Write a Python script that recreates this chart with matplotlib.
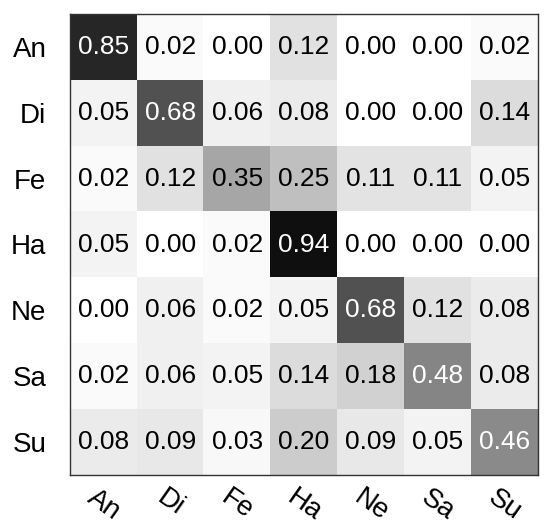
"""Confusion matrix of expression classes, gray heatmap."""

import matplotlib

matplotlib.use("Agg")

import matplotlib.pyplot as plt
import numpy as np

CLASSES = ["An", "Di", "Fe", "Ha", "Ne", "Sa", "Su"]
ROW_AN = [0.85, 0.02, 0.00, 0.12, 0.00, 0.00, 0.02]
ROW_DI = [0.05, 0.68, 0.06, 0.08, 0.00, 0.00, 0.14]
ROW_FE = [0.02, 0.12, 0.35, 0.25, 0.11, 0.11, 0.05]
ROW_HA = [0.05, 0.00, 0.02, 0.94, 0.00, 0.00, 0.00]
ROW_NE = [0.00, 0.06, 0.02, 0.05, 0.68, 0.12, 0.08]
ROW_SA = [0.02, 0.06, 0.05, 0.14, 0.18, 0.48, 0.08]
ROW_SU = [0.08, 0.09, 0.03, 0.20, 0.09, 0.05, 0.46]

plt.rcParams["font.family"] = ["Liberation Sans", "DejaVu Sans"]

cm = np.array([ROW_AN, ROW_DI, ROW_FE, ROW_HA, ROW_NE, ROW_SA, ROW_SU])

fig = plt.figure(figsize=(5.5, 5.31), dpi=100)
ax = fig.add_axes([70 / 550, 56 / 531, 468 / 550, 461 / 531])
ax.imshow(cm, cmap="gray_r", vmin=0, vmax=1, aspect="auto", interpolation="nearest")

for i in range(cm.shape[0]):
    for j in range(cm.shape[1]):
        color = "white" if cm[i, j] > 0.4 else "black"
        ax.text(j, i, f"{cm[i, j]:.2f}", ha="center", va="center",
                fontsize=19, color=color)

ax.set_xticks(np.arange(len(CLASSES)))
ax.set_yticks(np.arange(len(CLASSES)))
ax.set_xticklabels(CLASSES, rotation=-35, ha="center", va="top", fontsize=20)
ax.set_yticklabels(CLASSES, fontsize=20)
ax.tick_params(axis="x", length=0, pad=7)
ax.tick_params(axis="y", length=0, pad=17)
for spine in ax.spines.values():
    spine.set_color("#333333")
    spine.set_linewidth(1.0)

fig.savefig("out.png", dpi=100)
plt.close(fig)
